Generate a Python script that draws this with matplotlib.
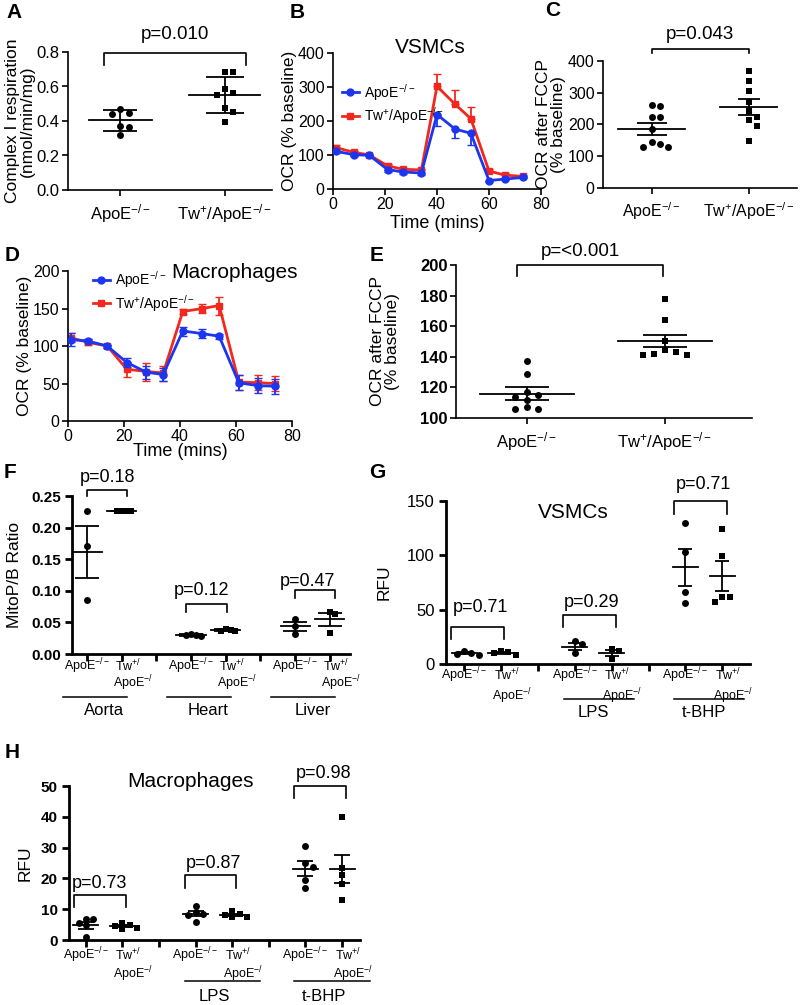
import numpy as np
import matplotlib
matplotlib.use('Agg')
import matplotlib.pyplot as plt
from matplotlib.lines import Line2D

plt.rcParams['font.family'] = ['Liberation Sans', 'DejaVu Sans']
plt.rcParams['mathtext.fontset'] = 'custom'
plt.rcParams['mathtext.rm'] = 'Liberation Sans'
plt.rcParams['mathtext.it'] = 'Liberation Sans:italic'
plt.rcParams['mathtext.bf'] = 'Liberation Sans:bold'

APOE = r'ApoE$^{-/-}$'
TWAPOE = r'Tw$^{+}$/ApoE$^{-/-}$'
BLUE = '#1b36ee'
RED = '#f2281e'

# ---- data ----
# A: complex I respiration
a_apoe = [0.471, 0.442, 0.448, 0.372, 0.364, 0.320]
a_tw = [0.684, 0.684, 0.583, 0.552, 0.564, 0.475, 0.450, 0.395]
a_mean = [0.403, 0.550]
a_sd = [0.060, 0.103]

# B: VSMC OCR trace
b_time = [1, 8, 14, 21, 27, 34, 40, 47, 53, 60, 66, 73]
b_apoe = [111, 101, 99, 57, 50, 47, 219, 176, 164, 25, 29, 34]
b_apoe_err = [5, 5, 3, 8, 5, 5, 33, 26, 35, 3, 3, 3]
b_tw = [122, 108, 100, 68, 58, 56, 302, 249, 207, 53, 41, 37]
b_tw_err = [6, 5, 3, 5, 5, 4, 35, 43, 35, 5, 5, 5]

# C: VSMC OCR after FCCP
c_apoe = [261, 258, 223, 225, 185, 139, 130, 130, 146]
c_tw = [369, 337, 306, 272, 244, 224, 215, 196, 147]
c_mean = [187, 255]
c_sem = [19, 24]

# D: macrophage OCR trace
d_time = [1, 7, 14, 21, 28, 34, 41, 48, 54, 61, 68, 74]
d_apoe = [108.5, 106.7, 100, 78, 65, 62, 120, 116.5, 113, 51, 47, 46.5]
d_apoe_err = [9, 3, 2, 6, 9, 9, 6, 6, 3, 10, 10, 10]
d_tw = [111, 105, 100, 69, 66, 64, 146, 150, 154, 52, 51, 50]
d_tw_err = [6, 4, 2, 10, 12, 10, 3, 6, 12, 10, 10, 10]

# E: macrophage OCR after FCCP
e_apoe = [137, 128.5, 115, 114, 117, 112, 107, 106, 106]
e_tw = [177.6, 164, 150, 144.6, 143, 141, 141, 142]
e_mean = [116, 150.5]
e_sem = [4, 4]

# F: MitoP/B ratio per tissue
f_groups = ['Aorta', 'Heart', 'Liver']
f_apoe = [[0.227, 0.171, 0.086], [0.031, 0.030, 0.029, 0.030], [0.056, 0.044, 0.032]]
f_tw = [[0.227, 0.227, 0.227, 0.227], [0.038, 0.036, 0.039, 0.037], [0.066, 0.064, 0.034]]
f_mean_apoe = [0.161, 0.030, 0.044]
f_sem_apoe = [0.041, 0.001, 0.007]
f_mean_tw = [0.227, 0.038, 0.055]
f_sem_tw = [0.0, 0.001, 0.010]
f_p = ['p=0.18', 'p=0.12', 'p=0.47']

# G: VSMC RFU
g_groups = ['', 'LPS', 't-BHP']
g_apoe = [[9, 10, 12, 8], [21, 18, 10], [130, 103, 66, 56]]
g_tw = [[10, 11, 8, 12], [14, 12, 5], [124, 99, 62, 57, 62]]
g_mean_apoe = [10, 16, 89]
g_sem_apoe = [1, 3.3, 17]
g_mean_tw = [10, 10, 81]
g_sem_tw = [1, 2.7, 14]
g_p = ['p=0.71', 'p=0.29', 'p=0.71']

# H: macrophage RFU
h_groups = ['', 'LPS', 't-BHP']
h_apoe = [[6.8, 6.8, 4.8, 5.4, 1.0], [11, 9, 8.6, 8, 6], [30.6, 25, 23.7, 19.4, 16.9]]
h_tw = [[4.5, 5.5, 4, 3.5, 5], [9.5, 8.5, 8, 7.5, 7.5], [39.8, 23.4, 21.2, 18.3, 13]]
h_mean_apoe = [4.8, 8.5, 23.1]
h_sem_apoe = [1.1, 0.8, 2.4]
h_mean_tw = [4.5, 8.2, 23.1]
h_sem_tw = [0.4, 0.4, 4.5]
h_p = ['p=0.73', 'p=0.87', 'p=0.98']

# ---- helpers ----
W, H = 800, 1005
fig = plt.figure(figsize=(8, 10.05), dpi=100)


def px_axes(l, t, r, b):
    return fig.add_axes([l / W, 1 - b / H, (r - l) / W, (b - t) / H])


def prism(ax, lw, length=4, pad=2):
    for s in ['top', 'right']:
        ax.spines[s].set_visible(False)
    for s in ['left', 'bottom']:
        ax.spines[s].set_linewidth(lw)
    ax.tick_params(width=lw, length=length, pad=pad, direction='out')


def swarm(vals, dx, dy):
    # push points with overlapping values sideways, like a scatter dot plot
    vals = np.asarray(vals, float)
    offs = np.zeros(len(vals))
    placed = []
    for i in np.argsort(-vals, kind='stable'):
        for k in range(30):
            cand = ((k + 1) // 2) * dx * (1 if k % 2 else -1)
            if all(abs(vals[i] - pv) >= dy or abs(cand - po) >= dx * 0.99 for pv, po in placed):
                break
        offs[i] = cand
        placed.append((vals[i], cand))
    return offs


def dots(ax, pos, vals, marker, dx, dy, s=25):
    offs = swarm(vals, dx, dy)
    ax.scatter(pos + offs, vals, marker=marker, s=s, color='k', linewidths=0, zorder=3, clip_on=False)


def meanbar(ax, pos, mean, err, mw, cap, lw=1.3):
    ax.plot([pos - mw, pos + mw], [mean, mean], color='k', lw=lw, zorder=4)
    ax.errorbar(pos, mean, yerr=err, fmt='none', ecolor='k', elinewidth=lw,
                capsize=cap, capthick=lw, zorder=4)


def bracket(ax, x0, x1, ytop, yleg, text, xt, yt, fs, lw=1.2):
    ax.plot([x0, x0, x1, x1], [yleg, ytop, ytop, yleg], color='k', lw=lw, clip_on=False)
    ax.text(xt, yt, text, ha='center', va='center', fontsize=fs, clip_on=False)


def letter(x, y, s):
    fig.text(x / W, 1 - y / H, s, fontsize=15, fontweight='bold', ha='center', va='center')


# ---- A ----
ax = px_axes(68, 52, 272, 190)
prism(ax, 1.2)
dots(ax, 0, a_apoe, 'o', 0.08, 0.04)
dots(ax, 1, a_tw, 's', 0.08, 0.04, s=22)
meanbar(ax, 0, a_mean[0], a_sd[0], 0.3, 12)
meanbar(ax, 1, a_mean[1], a_sd[1], 0.34, 14)
ax.set_xlim(-0.5, 1.45)
ax.set_ylim(0, 0.8)
ax.set_yticks([0, 0.2, 0.4, 0.6, 0.8])
ax.set_xticks([0, 1])
ax.set_xticklabels([APOE, TWAPOE])
ax.tick_params(labelsize=12)
ax.tick_params(axis='x', pad=5)
ax.set_ylabel('Complex I respiration\n(nmol/min/mg)', fontsize=12.5, linespacing=1.0)
ax.yaxis.set_label_coords(-0.16, 0.5)
bracket(ax, -0.16, 1.2, 0.794, 0.725, 'p=0.010', 0.52, 0.9, 13.5)
letter(14, 12, 'A')

# ---- B ----
ax = px_axes(333, 53, 541, 189)
prism(ax, 1.2)
ax.errorbar(b_time, b_apoe, yerr=[b_apoe_err, np.zeros(len(b_apoe_err))], color=BLUE, lw=2,
            marker='o', ms=5, capsize=3, elinewidth=1.3, label=APOE, zorder=3)
ax.errorbar(b_time, b_tw, yerr=[np.zeros(len(b_tw_err)), b_tw_err], color=RED, lw=2,
            marker='s', ms=5, capsize=3, elinewidth=1.3, label=TWAPOE, zorder=2)
ax.set_xlim(0, 80)
ax.set_ylim(0, 400)
ax.set_xticks([0, 20, 40, 60, 80])
ax.set_yticks([0, 100, 200, 300, 400])
ax.tick_params(labelsize=11.5)
ax.set_xlabel('Time (mins)', fontsize=13, labelpad=2)
ax.set_ylabel('OCR (% baseline)', fontsize=12.5)
ax.yaxis.set_label_coords(-0.175, 0.5)
ax.text(0.47, 1.04, 'VSMCs', transform=ax.transAxes, fontsize=15, ha='center', va='center')
h = [Line2D([], [], color=BLUE, marker='o', ms=5, lw=2), Line2D([], [], color=RED, marker='s', ms=5, lw=2)]
ax.legend(h, [APOE, TWAPOE], loc='upper left', bbox_to_anchor=(0.01, 0.84), frameon=False,
          fontsize=10, handlelength=1.2, borderpad=0, handletextpad=0.4, labelspacing=0.2)
letter(297, 12, 'B')

# ---- C ----
ax = px_axes(603, 61, 797, 188)
prism(ax, 1.2)
dots(ax, 0, c_apoe, 'o', 0.085, 22)
dots(ax, 1, c_tw, 's', 0.085, 22, s=22)
meanbar(ax, 0, c_mean[0], c_sem[0], 0.35, 11)
meanbar(ax, 1, c_mean[1], c_sem[1], 0.29, 8)
ax.set_xlim(-0.5, 1.5)
ax.set_ylim(0, 400)
ax.set_yticks([0, 100, 200, 300, 400])
ax.set_xticks([0, 1])
ax.set_xticklabels([APOE, TWAPOE])
ax.tick_params(labelsize=11.5)
ax.tick_params(axis='x', pad=5)
ax.set_ylabel('OCR after FCCP\n(% baseline)', fontsize=12.5, linespacing=1.0)
ax.yaxis.set_label_coords(-0.19, 0.5)
bracket(ax, 0, 1, 438, 425, 'p=0.043', 0.5, 485, 13.5)
letter(553, 10, 'C')

# ---- D ----
ax = px_axes(68, 271, 292, 421)
prism(ax, 1.2)
ax.errorbar(d_time, d_tw, yerr=d_tw_err, color=RED, lw=2, marker='s', ms=5,
            capsize=3, elinewidth=1.3, zorder=2)
ax.errorbar(d_time, d_apoe, yerr=d_apoe_err, color=BLUE, lw=2, marker='o', ms=5,
            capsize=3, elinewidth=1.3, zorder=3)
ax.set_xlim(0, 80)
ax.set_ylim(0, 200)
ax.set_xticks([0, 20, 40, 60, 80])
ax.set_yticks([0, 50, 100, 150, 200])
ax.tick_params(labelsize=11.5)
ax.set_xlabel('Time (mins)', fontsize=13, labelpad=-1)
ax.set_ylabel('OCR (% baseline)', fontsize=12.5)
ax.yaxis.set_label_coords(-0.16, 0.5)
ax.text(0.745, 0.99, 'Macrophages', transform=ax.transAxes, fontsize=15, ha='center', va='center')
ax.legend(h, [APOE, TWAPOE], loc='upper left', bbox_to_anchor=(0.08, 1.06), frameon=False,
          fontsize=10, handlelength=1.2, borderpad=0, handletextpad=0.4, labelspacing=0.2)
letter(12, 255, 'D')

# ---- E ----
ax = px_axes(456, 265, 752, 418)
prism(ax, 1.2)
dots(ax, 0, e_apoe, 'o', 0.08, 4.6)
dots(ax, 1, e_tw, 's', 0.08, 4.6, s=22)
meanbar(ax, 0, e_mean[0], e_sem[0], 0.34, 16)
meanbar(ax, 1, e_mean[1], e_sem[1], 0.34, 16)
ax.set_xlim(-0.51, 1.63)
ax.set_ylim(100, 200)
ax.set_yticks([100, 120, 140, 160, 180, 200])
ax.set_xticks([0, 1])
ax.set_xticklabels([APOE, TWAPOE])
ax.tick_params(labelsize=12)
ax.tick_params(axis='x', pad=5)
plt.setp(ax.get_yticklabels(), fontweight='bold')
ax.set_ylabel('OCR after FCCP\n(% baseline)', fontsize=12.5, linespacing=1.0)
ax.yaxis.set_label_coords(-0.19, 0.5)
bracket(ax, -0.07, 0.99, 200, 192.8, 'p=<0.001', 0.39, 208.5, 13.5)
letter(377, 255, 'E')


# ---- F, G, H: grouped dot plots ----
def grouped(ax, apoe, tw, m_apoe, s_apoe, m_tw, s_tw, dx, dy, mw, cap):
    for i in range(3):
        p0, p1 = 3 * i, 3 * i + 1
        dots(ax, p0, apoe[i], 'o', dx, dy)
        dots(ax, p1, tw[i], 's', dx, dy, s=22)
        meanbar(ax, p0, m_apoe[i], s_apoe[i], mw, cap)
        meanbar(ax, p1, m_tw[i], s_tw[i], mw, cap)
    ax.set_xticks(range(8))
    ax.set_xticklabels([])


def cat_labels(ax, groups, y1, y2, yline, ygroup, line_span, underline_first):
    tr = ax.get_xaxis_transform()
    for i, g in enumerate(groups):
        p0, p1 = 3 * i, 3 * i + 1
        ax.text(p0, y1, APOE, transform=tr, ha='center', va='center', fontsize=9)
        ax.text(p1 - 0.2, y1, r'Tw$^{+/}$', transform=tr, ha='left', va='center', fontsize=9)
        ax.text(p1 - 0.25, y2, r'ApoE$^{-/}$', transform=tr, ha='left', va='center', fontsize=9)
        if i > 0 or underline_first:
            ax.plot([p0 + line_span[0], p1 + line_span[1]], [yline, yline], color='k', lw=1.1,
                    transform=tr, clip_on=False)
        ax.text(p0 + 0.5, ygroup, g, transform=tr, ha='center', va='center', fontsize=12)


# F
ax = px_axes(72, 496, 350, 654)
prism(ax, 2, length=5, pad=3)
grouped(ax, f_apoe, f_tw, f_mean_apoe, f_sem_apoe, f_mean_tw, f_sem_tw, 0.14, 0.0095, 0.42, 8.5)
ax.set_xlim(-0.43, 7.58)
ax.set_ylim(0, 0.25)
ax.set_yticks([0, 0.05, 0.10, 0.15, 0.20, 0.25])
ax.set_yticklabels(['0.00', '0.05', '0.10', '0.15', '0.20', '0.25'])
ax.tick_params(labelsize=11)
plt.setp(ax.get_yticklabels(), fontweight='bold')
ax.set_ylabel('MitoP/B Ratio', fontsize=12.5)
ax.yaxis.set_label_coords(-0.18, 0.5)
cat_labels(ax, f_groups, -0.076, -0.185, -0.27, -0.36, (-0.7, 0.15), True)
bracket(ax, 0, 1.15, 0.2595, 0.25, f_p[0], 0.6, 0.28, 13)
bracket(ax, 2.85, 4.05, 0.079, 0.066, f_p[1], 3.3, 0.101, 13)
bracket(ax, 6.0, 7.15, 0.101, 0.088, f_p[2], 6.35, 0.114, 13)
letter(10, 472, 'F')

# G
ax = px_axes(446, 501, 750, 664)
prism(ax, 2, length=5, pad=3)
grouped(ax, g_apoe, g_tw, g_mean_apoe, g_sem_apoe, g_mean_tw, g_sem_tw, 0.2, 5.5, 0.34, 5)
ax.set_xlim(-0.49, 7.75)
ax.set_ylim(0, 150)
ax.set_yticks([0, 50, 100, 150])
ax.tick_params(labelsize=12)
ax.set_ylabel('RFU', fontsize=12.5)
ax.yaxis.set_label_coords(-0.18, 0.5)
cat_labels(ax, g_groups, -0.067, -0.2, -0.215, -0.3, (-0.3, 0.6), False)
bracket(ax, -0.35, 1.08, 34, 23, g_p[0], 0.45, 52, 13)
bracket(ax, 2.68, 4.12, 45, 34, g_p[1], 3.45, 57, 13)
bracket(ax, 5.69, 7.13, 150, 138, g_p[2], 6.5, 165, 13)
ax.text(0.42, 0.93, 'VSMCs', transform=ax.transAxes, fontsize=15, ha='center', va='center')
letter(377, 472, 'G')

# H
ax = px_axes(69, 786, 360, 940)
prism(ax, 2, length=5, pad=3)
grouped(ax, h_apoe, h_tw, h_mean_apoe, h_sem_apoe, h_mean_tw, h_sem_tw, 0.2, 1.95, 0.34, 5.5)
ax.set_xlim(-0.46, 7.49)
ax.set_ylim(0, 50)
ax.set_yticks([0, 10, 20, 30, 40, 50])
ax.tick_params(labelsize=11)
plt.setp(ax.get_yticklabels(), fontweight='bold')
ax.set_ylabel('RFU', fontsize=12.5)
ax.yaxis.set_label_coords(-0.124, 0.5)
cat_labels(ax, h_groups, -0.1, -0.225, -0.265, -0.37, (-0.3, 0.75), False)
bracket(ax, -0.33, 1.1, 14.6, 10.7, h_p[0], 0.38, 18.5, 13)
bracket(ax, 2.7, 4.1, 21, 17, h_p[1], 3.5, 25, 13)
bracket(ax, 5.7, 7.1, 50, 46, h_p[2], 6.5, 54, 13)
ax.text(0.416, 1.03, 'Macrophages', transform=ax.transAxes, fontsize=15, ha='center', va='center')
letter(12, 753, 'H')

fig.savefig('out.png', dpi=100)
